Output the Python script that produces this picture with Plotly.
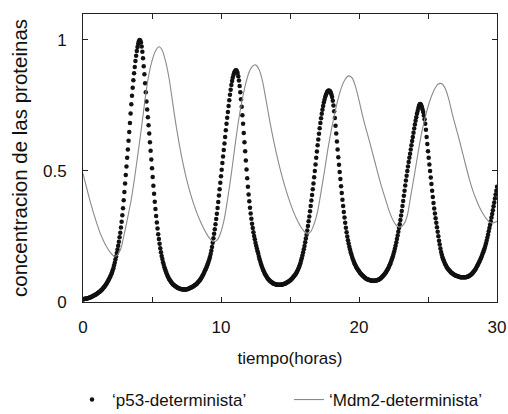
import plotly.graph_objects as go

# ---- data ----
# p53 (deterministic) sampled every 0.05 h from t = 0 to 30 h (20 values per hour per row)
p53_t0, p53_dt = 0.0, 0.05
p53_values = [
    0.010, 0.011, 0.011, 0.012, 0.012, 0.013, 0.013, 0.014, 0.015, 0.016, 0.017, 0.018, 0.019, 0.021, 0.022, 0.024, 0.025, 0.027, 0.028, 0.030,
    0.031, 0.033, 0.035, 0.037, 0.039, 0.041, 0.044, 0.046, 0.049, 0.052, 0.055, 0.058, 0.062, 0.066, 0.070, 0.074, 0.079, 0.084, 0.089, 0.094,
    0.100, 0.106, 0.113, 0.121, 0.129, 0.139, 0.150, 0.162, 0.174, 0.187, 0.200, 0.215, 0.230, 0.247, 0.264, 0.284, 0.306, 0.331, 0.358, 0.388,
    0.420, 0.452, 0.485, 0.517, 0.550, 0.582, 0.615, 0.649, 0.683, 0.719, 0.755, 0.787, 0.818, 0.846, 0.873, 0.897, 0.920, 0.940, 0.958, 0.973,
    0.985, 0.995, 1.000, 0.998, 0.990, 0.975, 0.955, 0.930, 0.900, 0.869, 0.835, 0.800, 0.765, 0.735, 0.705, 0.674, 0.643, 0.610, 0.577, 0.544,
    0.510, 0.477, 0.444, 0.413, 0.383, 0.355, 0.328, 0.303, 0.280, 0.259, 0.240, 0.222, 0.205, 0.190, 0.176, 0.164, 0.152, 0.142, 0.133, 0.125,
    0.117, 0.110, 0.103, 0.097, 0.092, 0.087, 0.083, 0.079, 0.075, 0.072, 0.069, 0.066, 0.064, 0.062, 0.060, 0.058, 0.056, 0.054, 0.053, 0.052,
    0.051, 0.050, 0.050, 0.049, 0.049, 0.048, 0.048, 0.048, 0.048, 0.048, 0.049, 0.049, 0.050, 0.051, 0.052, 0.053, 0.054, 0.055, 0.057, 0.058,
    0.060, 0.062, 0.064, 0.066, 0.068, 0.070, 0.073, 0.076, 0.079, 0.082, 0.086, 0.090, 0.094, 0.099, 0.104, 0.109, 0.115, 0.121, 0.127, 0.133,
    0.140, 0.147, 0.155, 0.163, 0.172, 0.183, 0.196, 0.210, 0.226, 0.243, 0.260, 0.278, 0.297, 0.317, 0.337, 0.359, 0.382, 0.406, 0.430, 0.455,
    0.480, 0.505, 0.530, 0.555, 0.580, 0.605, 0.630, 0.655, 0.680, 0.703, 0.725, 0.748, 0.770, 0.791, 0.810, 0.828, 0.843, 0.856, 0.866, 0.874,
    0.880, 0.883, 0.884, 0.881, 0.874, 0.861, 0.845, 0.824, 0.800, 0.774, 0.745, 0.713, 0.680, 0.645, 0.610, 0.575, 0.540, 0.506, 0.472, 0.440,
    0.410, 0.384, 0.360, 0.338, 0.318, 0.299, 0.282, 0.266, 0.252, 0.239, 0.226, 0.215, 0.204, 0.194, 0.184, 0.173, 0.163, 0.154, 0.145, 0.137,
    0.130, 0.123, 0.117, 0.111, 0.106, 0.101, 0.097, 0.093, 0.089, 0.086, 0.083, 0.080, 0.078, 0.076, 0.074, 0.072, 0.071, 0.070, 0.069, 0.068,
    0.067, 0.066, 0.066, 0.066, 0.066, 0.066, 0.066, 0.066, 0.067, 0.067, 0.068, 0.069, 0.070, 0.071, 0.072, 0.073, 0.075, 0.076, 0.078, 0.080,
    0.082, 0.084, 0.087, 0.090, 0.093, 0.096, 0.099, 0.102, 0.106, 0.110, 0.115, 0.120, 0.126, 0.133, 0.140, 0.148, 0.157, 0.167, 0.177, 0.189,
    0.201, 0.214, 0.228, 0.242, 0.257, 0.273, 0.290, 0.308, 0.326, 0.346, 0.366, 0.387, 0.408, 0.430, 0.452, 0.476, 0.500, 0.525, 0.550, 0.574,
    0.598, 0.620, 0.642, 0.663, 0.683, 0.701, 0.718, 0.734, 0.748, 0.761, 0.772, 0.782, 0.790, 0.797, 0.802, 0.805, 0.807, 0.806, 0.804, 0.799,
    0.792, 0.782, 0.768, 0.750, 0.728, 0.702, 0.673, 0.643, 0.612, 0.582, 0.552, 0.524, 0.496, 0.469, 0.442, 0.416, 0.390, 0.366, 0.343, 0.322,
    0.302, 0.283, 0.266, 0.250, 0.236, 0.223, 0.211, 0.200, 0.190, 0.181, 0.172, 0.164, 0.157, 0.150, 0.144, 0.139, 0.134, 0.129, 0.125, 0.121,
    0.117, 0.113, 0.110, 0.107, 0.104, 0.101, 0.099, 0.096, 0.094, 0.092, 0.090, 0.088, 0.087, 0.086, 0.085, 0.084, 0.083, 0.082, 0.082, 0.081,
    0.081, 0.081, 0.081, 0.081, 0.082, 0.082, 0.083, 0.084, 0.085, 0.086, 0.088, 0.090, 0.092, 0.094, 0.097, 0.100, 0.103, 0.106, 0.110, 0.114,
    0.118, 0.122, 0.127, 0.132, 0.138, 0.144, 0.151, 0.158, 0.166, 0.174, 0.183, 0.193, 0.203, 0.215, 0.227, 0.240, 0.254, 0.268, 0.282, 0.297,
    0.313, 0.330, 0.347, 0.366, 0.385, 0.405, 0.425, 0.445, 0.464, 0.482, 0.500, 0.517, 0.534, 0.550, 0.566, 0.582, 0.598, 0.614, 0.630, 0.646,
    0.662, 0.677, 0.692, 0.705, 0.718, 0.729, 0.740, 0.749, 0.755, 0.756, 0.752, 0.745, 0.736, 0.725, 0.712, 0.697, 0.680, 0.657, 0.630, 0.603,
    0.575, 0.550, 0.525, 0.500, 0.475, 0.450, 0.425, 0.401, 0.378, 0.357, 0.338, 0.320, 0.302, 0.285, 0.268, 0.251, 0.234, 0.219, 0.204, 0.191,
    0.180, 0.171, 0.163, 0.156, 0.150, 0.144, 0.139, 0.134, 0.130, 0.126, 0.123, 0.120, 0.117, 0.114, 0.112, 0.110, 0.108, 0.106, 0.104, 0.102,
    0.101, 0.100, 0.099, 0.098, 0.097, 0.096, 0.095, 0.094, 0.094, 0.094, 0.094, 0.094, 0.094, 0.094, 0.094, 0.094, 0.095, 0.096, 0.097, 0.098,
    0.100, 0.102, 0.104, 0.106, 0.109, 0.112, 0.115, 0.118, 0.122, 0.126, 0.131, 0.136, 0.141, 0.146, 0.152, 0.157, 0.163, 0.169, 0.176, 0.183,
    0.190, 0.197, 0.205, 0.214, 0.223, 0.234, 0.245, 0.257, 0.270, 0.282, 0.295, 0.308, 0.322, 0.336, 0.350, 0.365, 0.380, 0.395, 0.410, 0.425,
    0.440,
]

# Mdm2 (deterministic) sampled every 0.25 h from t = 0 to 30 h
mdm2_t0, mdm2_dt = 0.0, 0.25
mdm2_values = [
    0.490, 0.438, 0.388, 0.342, 0.300, 0.262, 0.232, 0.207, 0.188, 0.175,
    0.180, 0.205, 0.262, 0.325, 0.392, 0.478, 0.573, 0.670, 0.775, 0.862,
    0.920, 0.958, 0.974, 0.960, 0.915, 0.850, 0.760, 0.672, 0.595, 0.528,
    0.470, 0.420, 0.377, 0.340, 0.308, 0.280, 0.256, 0.238, 0.230, 0.238,
    0.268, 0.320, 0.400, 0.490, 0.590, 0.685, 0.762, 0.825, 0.872, 0.898,
    0.905, 0.888, 0.845, 0.775, 0.700, 0.632, 0.570, 0.515, 0.465, 0.420,
    0.380, 0.345, 0.315, 0.290, 0.271, 0.259, 0.268, 0.298, 0.345, 0.420,
    0.500, 0.585, 0.658, 0.722, 0.778, 0.822, 0.850, 0.863, 0.855, 0.822,
    0.770, 0.712, 0.662, 0.615, 0.565, 0.515, 0.465, 0.420, 0.378, 0.338,
    0.308, 0.290, 0.286, 0.297, 0.330, 0.405, 0.480, 0.560, 0.635, 0.695,
    0.745, 0.785, 0.815, 0.832, 0.833, 0.815, 0.775, 0.720, 0.670, 0.622,
    0.570, 0.518, 0.468, 0.425, 0.390, 0.360, 0.336, 0.316, 0.303, 0.302,
    0.308,
]

series_names = ["\u2018p53-determinista\u2019", "\u2018Mdm2-determinista\u2019"]
x_tick_values = [0, 5, 10, 15, 20, 25, 30]
x_tick_labels = ["0", "", "10", "", "20", "", "30"]
y_tick_values = [0, 0.5, 1]
y_tick_labels = ["0", "0.5", "1"]
x_title = "tiempo(horas)"
y_title = "concentracion de las proteinas"

p53_t = [round(p53_t0 + i * p53_dt, 3) for i in range(len(p53_values))]
mdm2_t = [round(mdm2_t0 + i * mdm2_dt, 3) for i in range(len(mdm2_values))]

FONT = "Liberation Sans, Arial, sans-serif"
# equal-width legend columns (gnuplot style): pad the first entry with no-break spaces
legend_pad = "\u00a0" * 8

W, H = 508, 414
M_L, M_R, M_T, M_B = 83, 11, 14, 112

fig = go.Figure()
fig.add_trace(go.Scatter(
    x=p53_t, y=p53_values, mode="markers", name=series_names[0] + legend_pad,
    marker=dict(color="#111111", size=4.5, line=dict(width=0)),
))
fig.add_trace(go.Scatter(
    x=mdm2_t, y=mdm2_values, mode="lines", name=series_names[1],
    line=dict(color="#8a8a8a", width=1.1, shape="spline", smoothing=0.6),
))

axis_common = dict(
    showline=True, linecolor="#222222", linewidth=1, mirror="ticks",
    ticks="inside", ticklen=5, tickcolor="#222222", tickwidth=1,
    showgrid=False, zeroline=False, automargin=False,
    tickfont=dict(family=FONT, size=17, color="#111111"),
)

fig.update_xaxes(
    range=[0, 30], tickmode="array", tickvals=x_tick_values, ticktext=x_tick_labels,
    ticklabelstandoff=10,
    title=dict(text=x_title, font=dict(family=FONT, size=17, color="#111111"), standoff=15),
    **axis_common,
)
fig.update_yaxes(
    range=[0, 1.099], tickmode="array", tickvals=y_tick_values, ticktext=y_tick_labels,
    ticklabelstandoff=12,
    title=dict(text=y_title, font=dict(family=FONT, size=20.5, color="#111111"), standoff=9),
    **axis_common,
)

fig.update_layout(
    width=W, height=H,
    margin=dict(l=M_L, r=M_R, t=M_T, b=M_B),
    paper_bgcolor="white", plot_bgcolor="white",
    showlegend=True,
    legend=dict(
        orientation="h", xref="container", yref="container",
        x=72 / W, xanchor="left", y=1 - 400 / H, yanchor="middle",
        font=dict(family=FONT, size=17, color="#111111"),
        itemwidth=30, bgcolor="rgba(0,0,0,0)",
    ),
)

fig.write_html(
    "out.html",
    config={"displayModeBar": False},
    post_script="document.body.style.margin='0px';document.body.style.overflow='hidden';",
)
